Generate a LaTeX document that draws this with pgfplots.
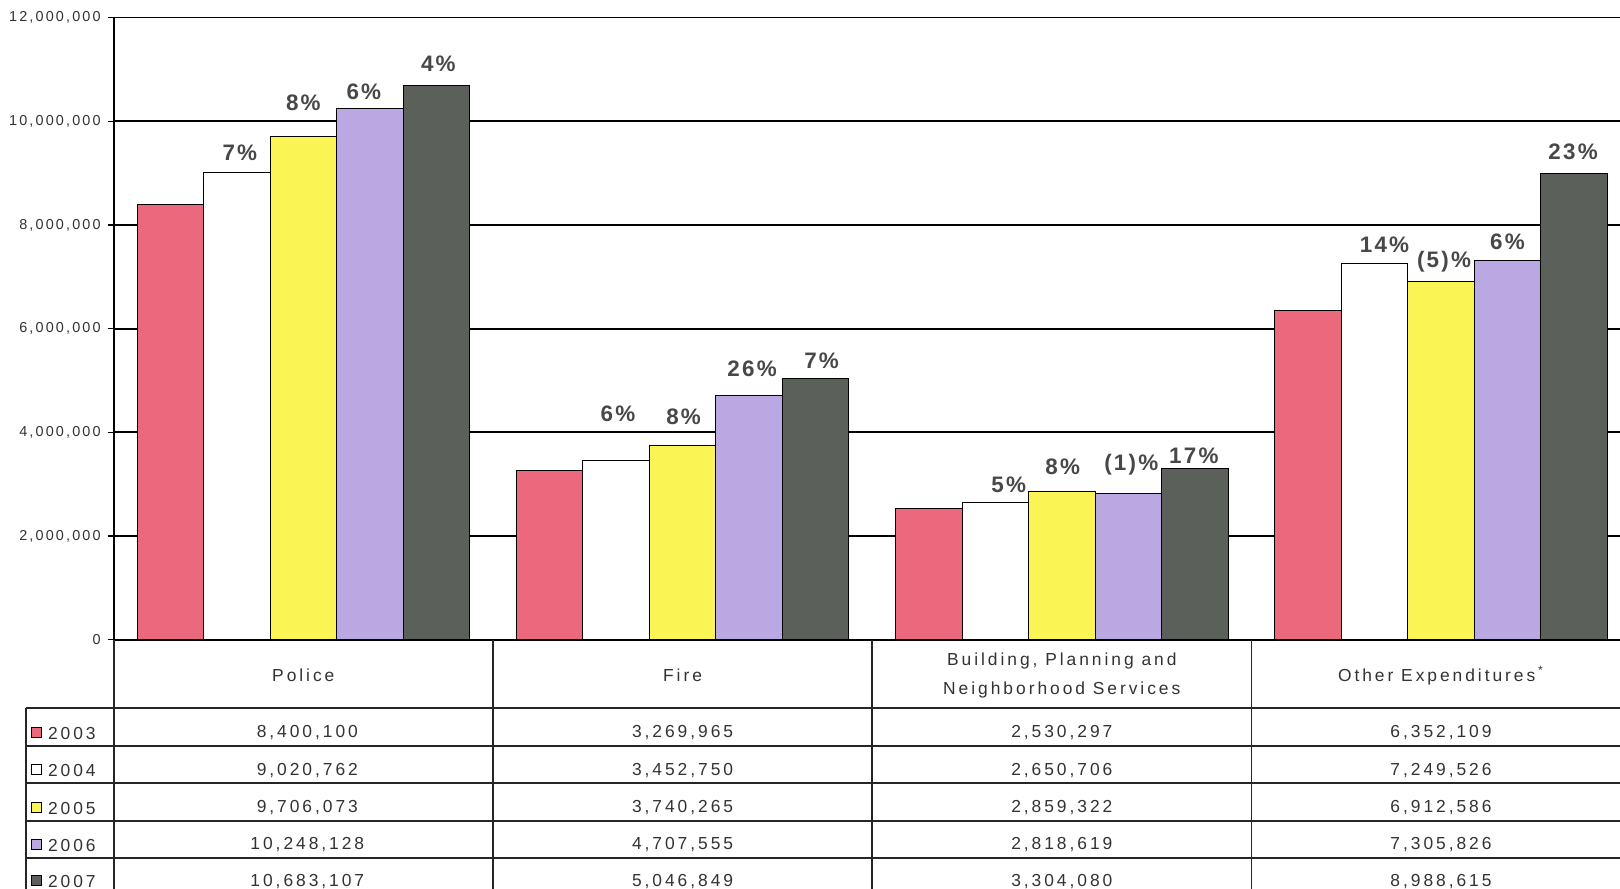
\documentclass[border=0pt]{standalone}
\usepackage{fontspec}
\setmainfont{Liberation Sans}
\newfontfamily\spacedfont[LetterSpace=17]{Liberation Sans}
\newfontfamily\tickfont[LetterSpace=15]{Liberation Sans}
\newfontfamily\pctfont[LetterSpace=10]{Liberation Sans}
\usepackage{pgfplots}
\usepackage{pgfplotstable}
\pgfplotsset{compat=1.18}
\definecolor{c2003}{RGB}{236,104,124}
\definecolor{c2004}{RGB}{255,255,255}
\definecolor{c2005}{RGB}{250,244,84}
\definecolor{c2006}{RGB}{186,168,226}
\definecolor{c2007}{RGB}{92,96,90}
\definecolor{txt}{RGB}{50,50,50}
\definecolor{pct}{RGB}{72,72,72}
\newcommand{\tblfont}{\spacedfont\fontsize{8.7}{14.5}\selectfont}
% x  value  label  dx(pt)  dy(pt)
\pgfplotstableread{
x y lab dx dy
0 8400100 {} 0 0
1 3269965 {} 0 0
2 2530297 {} 0 0
3 6352109 {} 0 0
}\tA
\pgfplotstableread{
x y lab dx dy
0 9020762 7\% 1.5 1
1 3452750 6\% 1 15
2 2650706 5\% 6.7 0
3 7249526 14\% 5 1
}\tB
\pgfplotstableread{
x y lab dx dy
0 9706073 8\% 0 8.3
1 3740265 8\% 0.5 6.2
2 2859322 8\% 0.5 3.6
3 6912586 (5)\% 1.5 0
}\tC
\pgfplotstableread{
x y lab dx dy
0 10248128 6\% -3 0
1 4707555 26\% 1.5 4.7
2 2818619 (1)\% 1.5 4.7
3 7305826 6\% 0 1
}\tD
\pgfplotstableread{
x y lab dx dy
0 10683107 4\% 1 2.6
1 5046849 7\% 3 0
2 3304080 17\% -0.5 -2
3 8988615 23\% -0.5 2.6
}\tE
\begin{document}
\begin{tikzpicture}
\begin{axis}[
  name=ax,
  scale only axis,
  width=753pt, height=311pt,
  xmin=-0.5, xmax=3.472,
  ymin=0, ymax=12000000,
  ytick={0,2000000,4000000,6000000,8000000,10000000,12000000},
  ymajorgrids,
  grid style={black, line width=0.9pt},
  axis lines*=left,
  axis line style={black, line width=0.9pt},
  tick align=outside,
  major tick length=3pt,
  ytick style={black, line width=0.6pt},
  scaled y ticks=false,
  yticklabel style={font=\tickfont\fontsize{7.2}{8}\selectfont, text=txt,
     /pgf/number format/.cd, fixed, 1000 sep={,}, assume math mode=true},
  xtick={0,1,2,3},
  xticklabels={Police, Fire, {Building, Planning and\\Neighborhood Services}, {Other Expenditures\,\textsuperscript{*}}},
  xticklabel style={font=\tblfont, align=center, anchor=center, yshift=-15pt, text=txt},
  x tick style={draw=none},
  clip=false,
  ybar, bar width=0.1754,
  lbl/.style={nodes near coords, point meta=explicit symbolic,
    visualization depends on={\thisrow{dx} \as \dxv},
    visualization depends on={\thisrow{dy} \as \dyv},
    every node near coord/.append style={font=\pctfont\bfseries\fontsize{11.2}{12}\selectfont, text=pct,
      xshift=\dxv pt, yshift=1pt+\dyv pt}},
]
\addplot[draw=black, line width=0.5pt, fill=c2003, bar shift=-0.3508] table[x=x, y=y] {\tA};
\addplot[draw=black, line width=0.5pt, fill=c2004, bar shift=-0.1754, lbl] table[x=x, y=y, meta=lab] {\tB};
\addplot[draw=black, line width=0.5pt, fill=c2005, bar shift=0, lbl] table[x=x, y=y, meta=lab] {\tC};
\addplot[draw=black, line width=0.5pt, fill=c2006, bar shift=0.1754, lbl] table[x=x, y=y, meta=lab] {\tD};
\addplot[draw=black, line width=0.5pt, fill=c2007, bar shift=0.3508, lbl] table[x=x, y=y, meta=lab] {\tE};
\coordinate (L) at (axis cs:-0.5,0);
\coordinate (R) at (rel axis cs:1,0);
\coordinate (A0) at (axis cs:0,0);
\coordinate (A1) at (axis cs:1,0);
\coordinate (A2) at (axis cs:2,0);
\coordinate (A3) at (axis cs:3,0);
\coordinate (B0) at (axis cs:-0.5,0);
\coordinate (B1) at (axis cs:0.5,0);
\coordinate (B2) at (axis cs:1.5,0);
\coordinate (B3) at (axis cs:2.5,0);
\end{axis}

% table grid
\foreach \yy in {34,53,71.5,90.5,109} {
  \draw[black!85, line width=0.8pt] ([xshift=-44pt,yshift=-\yy pt]L) -- ([yshift=-\yy pt]R);
}
\foreach \bb in {B0,B1,B2,B3} {
  \draw[black!85, line width=0.8pt] (\bb) -- ([yshift=-130pt]\bb);
}
\draw[black!85, line width=0.8pt] ([xshift=-44pt,yshift=-34pt]L) -- ([xshift=-44pt,yshift=-130pt]L);

% row labels
\foreach \yy/\lab/\col in {46.8/2003/c2003, 65.6/2004/c2004, 84.3/2005/c2005, 102.8/2006/c2006, 120.9/2007/c2007} {
  \draw[black, line width=0.4pt, fill=\col] ([xshift=-41pt,yshift=-\yy pt-1.8pt]L) rectangle ++(5pt,5pt);
  \node[anchor=west, font=\tblfont, text=txt, inner sep=0pt] at ([xshift=-33pt,yshift=-\yy pt]L) {\lab};
}

% table values
\foreach \yy/\a/\b/\c/\d in {
  46.5/{8,400,100}/{3,269,965}/{2,530,297}/{6,352,109},
  65.3/{9,020,762}/{3,452,750}/{2,650,706}/{7,249,526},
  84/{9,706,073}/{3,740,265}/{2,859,322}/{6,912,586},
  102.5/{10,248,128}/{4,707,555}/{2,818,619}/{7,305,826},
  120.8/{10,683,107}/{5,046,849}/{3,304,080}/{8,988,615}} {
  \node[font=\tblfont, text=txt, inner sep=0pt] at ([xshift=2pt,yshift=-\yy pt]A0) {\a};
  \node[font=\tblfont, text=txt, inner sep=0pt] at ([yshift=-\yy pt]A1) {\b};
  \node[font=\tblfont, text=txt, inner sep=0pt] at ([yshift=-\yy pt]A2) {\c};
  \node[font=\tblfont, text=txt, inner sep=0pt] at ([yshift=-\yy pt]A3) {\d};
}
\pgfresetboundingbox
\path ([shift={(-56.85pt,-124.5pt)}]ax.south west) rectangle ([shift={(0pt,8.8pt)}]ax.north east);
\end{tikzpicture}
\end{document}
